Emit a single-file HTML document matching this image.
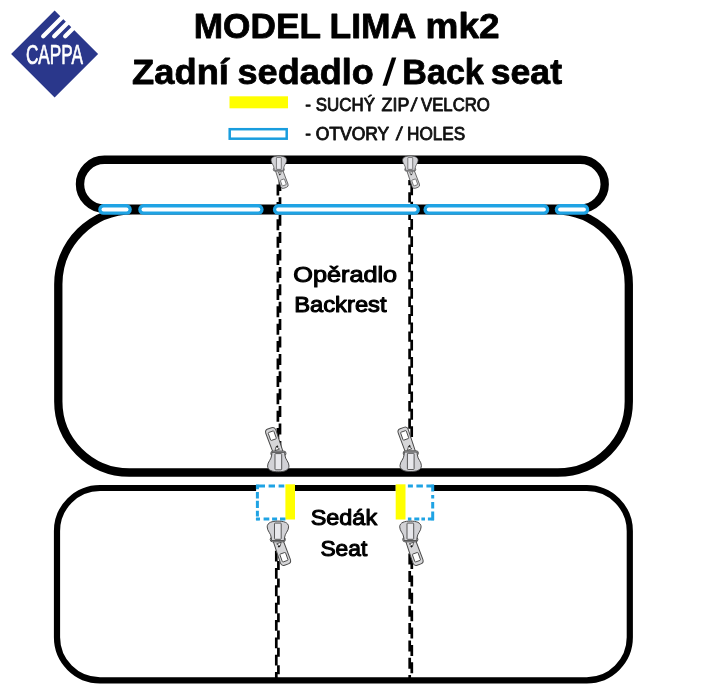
<!DOCTYPE html>
<html lang="cs">
<head>
<meta charset="utf-8">
<title>MODEL LIMA mk2 - Zadní sedadlo / Back seat</title>
<style>
html,body{margin:0;padding:0;background:#fff;}
body{width:706px;height:700px;overflow:hidden;font-family:"Liberation Sans",sans-serif;}
svg{display:block;}
text{font-family:"Liberation Sans",sans-serif;}
.b{font-weight:bold;}
#titles,#legendtext,#labels,#logotext{filter:grayscale(1);}
</style>
</head>
<body>
<svg width="706" height="700" viewBox="0 0 706 700">
<defs>
  <g id="zip" stroke="#4a4a4a" stroke-width="1" stroke-linejoin="round">
    <!-- pull tab -->
    <g transform="translate(0.3,20.4) rotate(-19.5)">
      <path d="M-4.8,-2 L-5.3,21.4 Q-5.3,25 -2,25 L2,25 Q5.3,25 5.3,21.4 L4.8,-2 Z" fill="#d6d6d8"/>
      <rect x="-3" y="13" width="6" height="8.4" rx="0.7" fill="#fff" stroke-width="0.9"/>
      <path d="M-2.4,2.2 L2.4,2.2 L0,5.6 Z" fill="#fff" stroke-width="0.8"/>
      <path d="M-2.2,4.6 L0.6,5.2 L-1.6,6.6 Z" fill="#111" stroke="none"/>
    </g>
    <!-- collar -->
    <rect x="-7.7" y="16.6" width="15.2" height="4.6" rx="2.2" fill="#d0d0d4" stroke-width="0.9"/>
    <!-- body -->
    <path d="M0,0.5 C5.5,0.5 10.7,1.8 10.7,6.3 C10.7,10.6 6.9,12.6 6.6,17.2 L6.4,20 L-6.4,20 L-6.6,17.2 C-6.9,12.6 -10.7,10.6 -10.7,6.3 C-10.7,1.8 -5.5,0.5 0,0.5 Z" fill="#d2d2d6"/>
    <rect x="-3.4" y="2.5" width="6.7" height="16.2" rx="0.7" fill="#e8e8ec" stroke-width="0.9"/>
  </g>
</defs>

<rect width="706" height="700" fill="#fff"/>

<!-- logo -->
<g id="logo">
  <path d="M54.6,10.6 L98.1,54 L54.6,97.4 L11.1,54 Z" fill="#2a378b"/>
  <g stroke="#fff" stroke-width="4.3" stroke-linecap="round" fill="none">
    <path d="M43.2,36.2 L66,13.4"/>
    <path d="M54.2,36.2 L72,18.4"/>
    <path d="M65.2,36.2 L78,23.4"/>
  </g>
  <text id="logotext" font-size="27" fill="#fff" stroke="#fff" stroke-width="0.7" stroke-linejoin="round" transform="translate(25.9,64.2) scale(0.637,1)">CAPPA</text>
</g>

<!-- titles -->
<g id="titles" fill="#000" stroke="#000" stroke-width="0.8" stroke-linejoin="round" font-size="35.65">
<text class="b" transform="translate(193.73,38.2) scale(0.9886,1)">MODEL</text>
<text class="b" transform="translate(329.61,38.2) scale(0.9950,1)">LIMA</text>
<text class="b" transform="translate(425.53,38.2) scale(1.0370,1)">mk2</text>
<text class="b" transform="translate(132.12,84.3) scale(1.0185,1)">Zadní</text>
<text class="b" transform="translate(237.56,84.3) scale(1.0120,1)">sedadlo</text>
<text class="b" stroke="none" font-size="38" transform="translate(382.3,85.3) skewX(-8)">/</text>
<text class="b" transform="translate(402.30,84.3) scale(0.9568,1)">Back</text>
<text class="b" transform="translate(490.78,84.3) scale(0.9983,1)">seat</text>
</g>

<!-- legend -->
<rect x="229.5" y="96.3" width="58.5" height="12" fill="#ffff00"/>
<rect x="229.7" y="129.2" width="57" height="9.5" fill="#fff" stroke="#199dde" stroke-width="2.5"/>
<g id="legendtext" fill="#111" stroke="#111" stroke-width="0.85" stroke-linejoin="round" font-size="17.61">
<text transform="translate(305.23,110.6) scale(0.9710,1)">-</text>
<text transform="translate(315.76,110.6) scale(0.9611,1)">SUCHÝ</text>
<text transform="translate(381.60,110.6) scale(1.0136,1)">ZIP</text>
<text font-size="18.5" transform="translate(410.6,111.2) skewX(-8)">/</text>
<text transform="translate(420.94,110.6) scale(0.9533,1)">VELCRO</text>
<text transform="translate(305.23,139.6) scale(0.9710,1)">-</text>
<text transform="translate(315.75,139.6) scale(0.9935,1)">OTVORY</text>
<text font-size="18.5" transform="translate(395.8,140.2) skewX(-8)">/</text>
<text transform="translate(407.04,139.6) scale(0.9767,1)">HOLES</text>
</g>

<!-- seat outline (bottom) -->
<rect x="57" y="488" width="572.8" height="192.3" rx="43" ry="43" fill="none" stroke="#000" stroke-width="6.2"/>

<!-- backrest -->
<path d="M132.3,210.3 H554.8 A74,74 0 0 1 628.8,284.3 V401.5 A71,71 0 0 1 557.8,472.5 H129.3 A71,71 0 0 1 58.3,401.5 V284.3 A74,74 0 0 1 132.3,210.3 Z" fill="none" stroke="#000" stroke-width="8.3"/>

<!-- headrest -->
<rect x="80" y="159.8" width="524.7" height="48.8" rx="24.4" ry="24.4" fill="none" stroke="#000" stroke-width="8.4"/>

<!-- dashed seams -->
<g id="seams" stroke="#000" fill="none">
  <path d="M280.0,180 L280.0,470" stroke-width="2.7" stroke-dasharray="11 6.4" stroke-dashoffset="0.10"/>
  <path d="M277.9,180 L277.9,470" stroke-width="2.7" stroke-dasharray="11 6.4" stroke-dashoffset="12.90"/>
  <path d="M278.4,540 L278.4,680" stroke-width="2.7" stroke-dasharray="9 8.35" stroke-dashoffset="13.60"/>
  <path d="M276.3,540 L276.3,680" stroke-width="2.7" stroke-dasharray="10.8 6.55" stroke-dashoffset="6.70"/>
  <path d="M409.6,180 L409.6,470" stroke-width="2.7" stroke-dasharray="10.4 7.0" stroke-dashoffset="5.20"/>
  <path d="M411.7,180 L411.7,470" stroke-width="2.7" stroke-dasharray="10.8 6.47" stroke-dashoffset="12.91"/>
  <path d="M409.7,540 L409.7,680" stroke-width="2.7" stroke-dasharray="11 6.37" stroke-dashoffset="3.84"/>
  <path d="M411.8,540 L411.8,680" stroke-width="2.7" stroke-dasharray="11 6.37" stroke-dashoffset="16.71"/>
</g>

<!-- blue hole segments -->
<g stroke-linecap="round" fill="none">
  <g stroke="#1fa3e4" stroke-width="10.6">
    <path d="M103.5,209.4 H126.5"/>
    <path d="M143.5,209.4 H258.3"/>
    <path d="M278.2,209.4 H414.6"/>
    <path d="M428.8,209.4 H543.9"/>
    <path d="M560.1,209.4 H583.9"/>
  </g>
  <g stroke="#fff" stroke-width="4">
    <path d="M103.5,209.4 H126.5"/>
    <path d="M143.5,209.4 H258.3"/>
    <path d="M278.2,209.4 H414.6"/>
    <path d="M428.8,209.4 H543.9"/>
    <path d="M560.1,209.4 H583.9"/>
  </g>
</g>

<!-- seat gaps: holes + velcro -->
<rect x="256.1" y="483" width="38.9" height="10" fill="#fff"/>
<rect x="395.7" y="483" width="38.3" height="10" fill="#fff"/>
<rect x="285.4" y="484.3" width="9.6" height="35.2" fill="#ffff00"/>
<rect x="395.7" y="484.3" width="9.8" height="35.2" fill="#ffff00"/>
<g id="holes" fill="none" stroke="#1fa3e4" stroke-width="3">
  <path d="M256.1,486 H285.4" stroke-dasharray="8.9 3.6 6.4 3.6 5.7 100"/>
  <path d="M257.4,484.7 V520.3" stroke-dasharray="4.6 2.8 6.5 2.1 7.2 2.8 5.7 1.5 2.4 100"/>
  <path d="M256.1,519 H285.4" stroke-dasharray="3.9 3.6 5.7 2.8 5 2.9 5.4 100"/>
  <path d="M434,486 H405.5" stroke-dasharray="7.6 3.5 6.5 3.5 5 100"/>
  <path d="M432.7,484.7 V520.3" stroke-dasharray="6.7 3.6 3.6 3.5 6.5 2.8 8.9 100"/>
  <path d="M434,519 H405.5" stroke-dasharray="6.1 2.9 3.6 2.1 5 2.9 3.5 100"/>
</g>

<!-- zippers -->
<use href="#zip" transform="translate(278.3,472.3) rotate(180)"/>
<use href="#zip" transform="translate(410.7,472) rotate(180)"/>
<use href="#zip" transform="translate(277.9,520.6)"/>
<use href="#zip" transform="translate(410.4,520.6)"/>
<use href="#zip" transform="translate(278.9,155.7) scale(0.73)"/>
<use href="#zip" transform="translate(410.3,155.7) scale(0.73)"/>

<!-- labels -->
<g id="labels" fill="#000" stroke="#000" stroke-width="1.1" stroke-linejoin="round" font-size="22.75">
<text transform="translate(293.25,281.9) scale(1.1107,1)">Opěradlo</text>
<text transform="translate(294.17,312.1) scale(1.0451,1)">Backrest</text>
<text transform="translate(310.69,525.3) scale(1.0304,1)">Sedák</text>
<text transform="translate(320.41,556.1) scale(1.0021,1)">Seat</text>
</g>
</svg>
</body>
</html>
